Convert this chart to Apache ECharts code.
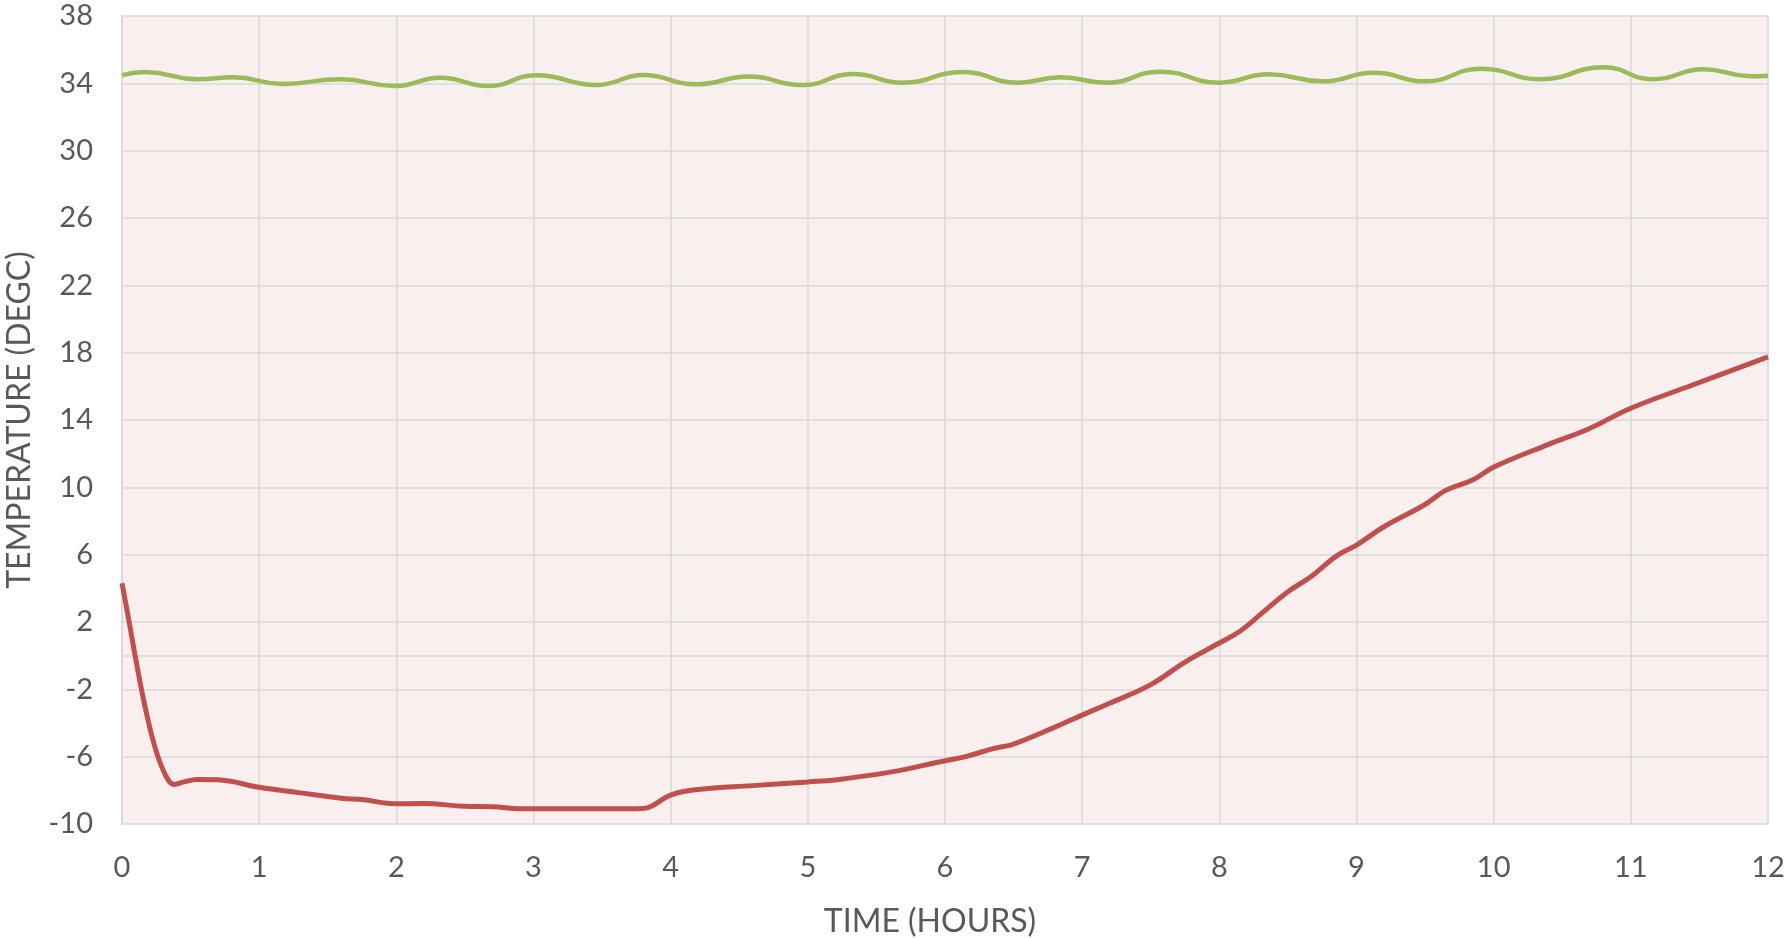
<!DOCTYPE html>
<html>
<head>
<meta charset="utf-8">
<script src="https://cdn.jsdelivr.net/npm/echarts@6/dist/echarts.min.js"></script>
<style>
  html, body { margin: 0; padding: 0; background: #fff; }
  #chart { width: 1788px; height: 938px; }
</style>
</head>
<body>
<div id="chart"></div>
<script>
// red line - sample temperature
const redTime = [0, 0.05, 0.1, 0.17, 0.25, 0.33, 0.38, 0.45, 0.55, 0.7, 1.0, 1.3, 1.6, 1.75, 2.0, 2.2, 2.5, 2.7, 2.9, 3.2, 3.5, 3.8, 3.87, 4.0, 4.2, 4.6, 5.0, 5.2, 5.6, 6.0, 6.15, 6.35, 6.5, 6.78, 7.0, 7.2, 7.5, 7.75, 8.0, 8.15, 8.3, 8.5, 8.67, 8.85, 9.0, 9.2, 9.5, 9.65, 9.85, 10.0, 10.4, 10.7, 11.0, 11.45, 12.0];
const redTemp = [4.3, 2.1, -0.2, -3.1, -5.7, -7.3, -7.65, -7.5, -7.35, -7.37, -7.82, -8.15, -8.47, -8.55, -8.8, -8.78, -8.95, -8.97, -9.09, -9.1, -9.1, -9.08, -8.9, -8.28, -7.95, -7.72, -7.5, -7.38, -6.92, -6.24, -6.0, -5.52, -5.25, -4.32, -3.53, -2.83, -1.72, -0.38, 0.75, 1.45, 2.45, 3.8, 4.7, 5.9, 6.57, 7.66, 8.98, 9.82, 10.45, 11.2, 12.55, 13.5, 14.7, 16.08, 17.75];

// green line - ambient temperature
const greenTime = [0, 0.17, 0.55, 0.81, 1.17, 1.59, 1.99, 2.32, 2.67, 3.02, 3.46, 3.8, 4.18, 4.57, 4.96, 5.33, 5.69, 6.13, 6.53, 6.84, 7.18, 7.57, 8.0, 8.36, 8.75, 9.13, 9.5, 9.91, 10.34, 10.8, 11.16, 11.53, 11.87, 12.0];
const greenTemp = [34.49, 34.67, 34.24, 34.36, 33.96, 34.24, 33.84, 34.33, 33.84, 34.48, 33.9, 34.49, 33.94, 34.4, 33.9, 34.55, 34.04, 34.67, 34.04, 34.36, 34.04, 34.69, 34.04, 34.54, 34.12, 34.63, 34.12, 34.87, 34.24, 34.95, 34.24, 34.84, 34.42, 34.45];

const xTicks = [0, 1, 2, 3, 4, 5, 6, 7, 8, 9, 10, 11, 12];
const yTicks = [-10, -6, -2, 2, 6, 10, 14, 18, 22, 26, 30, 34, 38];

const pairs = (xs, ys) => xs.map((x, i) => [x, ys[i]]);

const font = 'Lato, "Open Sans", sans-serif';
const textColor = '#595959';
const gridColor = '#D9D9D9';

const chart = echarts.init(document.getElementById('chart'));
chart.setOption({
  animation: false,
  grid: {
    left: 122, top: 16, right: 20, bottom: 114,
    outerBoundsMode: 'none',
    containLabel: false,
    show: true,
    backgroundColor: '#F9EFEF',
    borderWidth: 0
  },
  xAxis: {
    type: 'value',
    min: xTicks[0],
    max: xTicks[xTicks.length - 1],
    interval: 1,
    name: 'TIME (HOURS)',
    nameLocation: 'middle',
    nameGap: 82,
    nameTextStyle: { color: textColor, fontSize: 32, fontFamily: font, padding: [0, 30, 0, 0] },
    axisLine: { show: true, lineStyle: { color: gridColor, width: 1.5 } },
    axisTick: { show: false },
    axisLabel: { color: textColor, fontSize: 29, fontFamily: font, margin: 29 },
    splitLine: { show: true, lineStyle: { color: gridColor, width: 1.5 } }
  },
  yAxis: {
    type: 'value',
    min: yTicks[0],
    max: yTicks[yTicks.length - 1],
    interval: 4,
    name: 'TEMPERATURE (DEGC)',
    nameLocation: 'middle',
    nameGap: 86,
    nameTextStyle: { color: textColor, fontSize: 32, fontFamily: font },
    axisLine: { show: true, lineStyle: { color: gridColor, width: 1.5 } },
    axisTick: { show: false },
    axisLabel: { color: textColor, fontSize: 29, fontFamily: font, margin: 29 },
    splitLine: { show: true, lineStyle: { color: gridColor, width: 1.5 } }
  },
  series: [
    {
      name: 'Ambient',
      type: 'line',
      data: pairs(greenTime, greenTemp),
      smooth: 0.5,
      showSymbol: false,
      lineStyle: { color: '#9BBB59', width: 4.5 }
    },
    {
      name: 'Sample',
      type: 'line',
      data: pairs(redTime, redTemp),
      smooth: 0.4,
      showSymbol: false,
      lineStyle: { color: '#C0504D', width: 5 }
    }
  ]
});
</script>
</body>
</html>
